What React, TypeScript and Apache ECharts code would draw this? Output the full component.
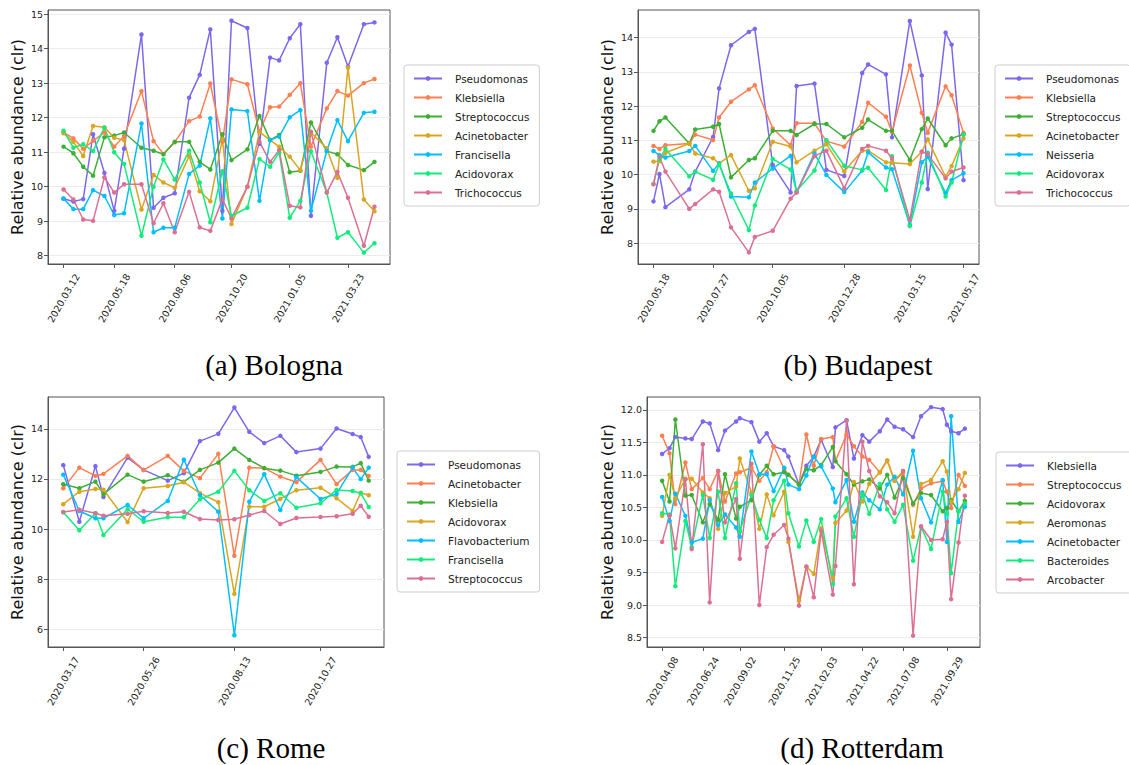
import React, { useEffect, useRef } from 'react';
import * as echarts from 'echarts';

// ---------------- Bologna ----------------
const bolognaDates = ['2020-03-12','2020-03-25','2020-04-07','2020-04-20','2020-05-05','2020-05-18','2020-05-31','2020-06-23','2020-07-09','2020-07-22','2020-08-06','2020-08-25','2020-09-08','2020-09-22','2020-10-08','2020-10-20','2020-11-10','2020-11-26','2020-12-10','2020-12-22','2021-01-05','2021-01-19','2021-02-02','2021-02-23','2021-03-09','2021-03-23','2021-04-13','2021-04-27'];
const bolognaTicks = ['2020-03-12','2020-05-18','2020-08-06','2020-10-20','2021-01-05','2021-03-23'];
const bolognaYTicks = [8, 9, 10, 11, 12, 13, 14, 15];
const bolognaTaxa = ['Pseudomonas','Klebsiella','Streptococcus','Acinetobacter','Francisella','Acidovorax','Trichococcus'];
const bolognaPseudomonas = [9.65,9.57,9.64,11.52,10.4,9.30,11.1,14.41,9.39,9.68,9.81,12.58,13.24,14.56,9.3,14.81,14.60,11.24,13.74,13.66,14.30,14.71,9.16,13.59,14.33,13.48,14.71,14.76];
const bolognaKlebsiella = [11.57,11.40,11.10,11.33,11.57,11.16,11.47,12.77,11.32,10.95,11.29,11.90,12.03,12.99,11.3,13.11,12.97,11.59,12.30,12.32,12.66,13.00,11.16,12.27,12.77,12.64,13.00,13.12];
const bolognaStreptococcus = [11.16,10.97,10.58,10.32,11.43,11.48,11.57,11.13,11.04,10.94,11.30,11.30,10.72,10.50,11.52,10.77,11.08,12.05,11.35,11.50,10.42,10.46,11.86,11.03,10.94,10.63,10.48,10.72];
const bolognaAcinetobacter = [11.55,11.30,10.89,11.76,11.72,11.42,11.35,9.34,10.34,10.12,9.97,10.89,9.87,9.58,11.38,8.92,10.00,11.59,11.35,11.16,10.87,10.48,11.57,11.11,10.26,13.45,9.63,9.29];
const bolognaFrancisella = [9.66,9.35,9.35,9.90,9.73,9.18,9.23,11.83,8.68,8.81,8.81,10.37,10.61,11.98,9.08,12.24,12.19,9.59,11.35,11.45,12.01,12.22,9.30,11.04,11.93,11.32,12.14,12.17];
const bolognaAcidovorax = [11.62,11.13,11.23,11.03,11.71,11.00,10.66,8.58,10.00,10.79,10.21,11.04,10.12,8.97,10.45,9.15,9.39,10.80,10.58,10.99,9.10,9.59,11.03,9.83,8.52,8.68,8.09,8.36];
const bolognaTrichococcus = [9.92,9.63,9.05,9.01,10.27,9.83,10.07,10.07,8.94,9.52,8.68,9.85,8.82,8.72,9.64,9.08,10.00,11.30,10.72,11.06,9.45,9.40,11.59,9.83,10.43,9.68,8.29,9.42];

// ---------------- Budapest ----------------
const budapestDates = ['2020-05-18','2020-05-25','2020-06-01','2020-06-29','2020-07-06','2020-07-27','2020-08-03','2020-08-17','2020-09-07','2020-09-14','2020-10-05','2020-10-26','2020-11-02','2020-11-23','2020-12-07','2020-12-28','2021-01-18','2021-01-25','2021-02-15','2021-02-22','2021-03-15','2021-03-29','2021-04-05','2021-04-26','2021-05-03','2021-05-17'];
const budapestTicks = ['2020-05-18','2020-07-27','2020-10-05','2020-12-28','2021-03-15','2021-05-17'];
const budapestYTicks = [8, 9, 10, 11, 12, 13, 14];
const budapestTaxa = ['Pseudomonas','Klebsiella','Streptococcus','Acinetobacter','Neisseria','Acidovorax','Trichococcus'];
const budapestPseudomonas = [9.22,10.02,9.05,9.57,10.09,11.10,12.52,13.78,14.17,14.26,10.28,9.48,12.59,12.66,10.14,9.96,12.97,13.22,12.93,11.09,14.49,12.90,9.58,14.15,13.80,9.84];
const budapestKlebsiella = [10.84,10.75,10.86,10.91,11.17,11.01,11.67,12.13,12.49,12.61,11.35,10.86,11.50,11.50,10.98,10.82,11.54,12.10,11.69,11.25,13.19,11.81,11.22,12.58,12.32,11.22];
const budapestStreptococcus = [11.28,11.56,11.67,10.91,11.32,11.40,11.48,9.92,10.43,10.48,11.28,11.28,11.16,11.48,11.48,11.09,11.37,11.61,11.28,11.28,10.43,11.33,11.64,10.86,11.06,11.18];
const budapestAcinetobacter = [10.38,10.40,10.64,10.91,10.62,10.48,10.33,10.57,9.53,9.60,10.96,10.82,10.36,10.70,10.89,10.09,10.70,10.70,10.36,10.35,10.31,10.67,11.03,9.94,10.25,11.06];
const budapestNeisseria = [10.69,10.57,10.50,10.69,10.84,10.11,10.33,9.36,9.34,9.77,10.18,10.55,9.49,10.62,9.99,9.49,10.12,10.65,10.21,10.16,8.53,10.36,10.52,9.46,9.84,10.04];
const budapestAcidovorax = [9.73,10.45,10.75,9.95,10.09,9.85,10.30,9.45,8.38,9.10,10.46,10.15,9.52,10.12,11.01,10.26,10.14,10.20,9.55,10.54,8.50,9.77,10.64,9.36,9.77,11.17];
const budapestTrichococcus = [9.72,10.52,10.09,9.00,9.14,9.57,9.50,8.46,7.73,8.18,8.36,9.30,9.48,10.54,10.70,9.60,10.75,10.84,10.70,10.48,8.68,10.67,10.60,9.89,10.09,10.21];

// ---------------- Rome ----------------
const romeDates = ['2020-03-17','2020-03-31','2020-04-14','2020-04-21','2020-05-12','2020-05-26','2020-06-16','2020-06-30','2020-07-14','2020-07-30','2020-08-13','2020-08-26','2020-09-08','2020-09-22','2020-10-06','2020-10-27','2020-11-10','2020-11-24','2020-12-01','2020-12-08'];
const romeTicks = ['2020-03-17','2020-05-26','2020-08-13','2020-10-27'];
const romeYTicks = [6, 8, 10, 12, 14];
const romeTaxa = ['Pseudomonas','Acinetobacter','Klebsiella','Acidovorax','Flavobacterium','Francisella','Streptococcus'];
const romePseudomonas = [12.55,10.29,12.51,11.28,12.85,12.36,11.93,12.23,13.51,13.80,14.85,13.88,13.43,13.72,13.07,13.21,14.01,13.79,13.67,12.88];
const romeAcinetobacter = [11.63,12.45,12.12,12.20,12.92,12.35,12.92,12.32,12.03,13.00,8.93,12.45,12.43,12.09,11.87,12.76,11.79,12.36,12.36,12.12];
const romeKlebsiella = [11.79,11.63,11.89,11.39,12.17,11.89,12.15,11.88,12.36,12.65,13.21,12.76,12.43,12.33,12.13,12.28,12.49,12.48,12.63,11.93];
const romeAcidovorax = [10.99,11.49,11.60,11.57,10.28,11.63,11.72,11.87,11.43,11.07,7.41,10.89,10.89,11.20,11.55,11.65,11.23,10.72,11.45,11.35];
const romeFlavobacterium = [12.17,10.72,10.43,10.43,10.96,10.43,11.12,12.77,11.36,10.69,5.76,11.09,12.19,10.76,12.07,11.20,11.40,12.45,11.99,12.45];
const romeFrancisella = [10.67,9.95,10.63,9.76,10.79,10.29,10.47,10.47,11.19,11.49,12.32,11.55,11.12,11.43,10.85,11.03,11.56,11.52,11.43,10.88];
const romeStreptococcus = [10.68,10.77,10.63,10.53,10.61,10.71,10.64,10.69,10.40,10.36,10.39,10.56,10.72,10.20,10.44,10.48,10.51,10.61,10.93,10.49];

// ---------------- Rotterdam ----------------
const rotterdamDates = ['2020-04-08','2020-04-22','2020-05-03','2020-05-22','2020-06-03','2020-06-24','2020-07-07','2020-07-23','2020-08-05','2020-08-26','2020-09-02','2020-09-24','2020-10-09','2020-10-23','2020-11-05','2020-11-25','2020-12-03','2020-12-23','2021-01-06','2021-01-20','2021-02-03','2021-02-25','2021-03-02','2021-03-23','2021-04-06','2021-04-22','2021-05-05','2021-05-25','2021-06-08','2021-06-22','2021-07-08','2021-07-27','2021-08-11','2021-08-30','2021-09-21','2021-09-29','2021-10-07','2021-10-21','2021-11-02'];
const rotterdamTicks = ['2020-04-08','2020-06-24','2020-09-02','2020-11-25','2021-02-03','2021-04-22','2021-07-08','2021-09-29'];
const rotterdamYTicks = [8.5, 9.0, 9.5, 10.0, 10.5, 11.0, 11.5, 12.0];
const rotterdamTaxa = ['Klebsiella','Streptococcus','Acidovorax','Aeromonas','Acinetobacter','Bacteroides','Arcobacter'];
const rotterdamKlebsiella = [11.32,11.41,11.58,11.56,11.55,11.82,11.79,11.38,11.68,11.82,11.87,11.81,11.51,11.64,11.44,11.38,11.28,10.85,11.14,11.28,11.54,11.12,11.73,11.84,11.25,11.61,11.51,11.67,11.85,11.74,11.70,11.58,11.90,12.04,12.01,11.77,11.67,11.64,11.71];
const rotterdamStreptococcus = [11.60,11.33,10.55,11.19,10.78,10.95,10.78,11.06,10.59,11.02,11.04,11.11,10.91,11.04,11.44,11.09,11.00,10.85,11.62,11.14,11.55,11.58,11.21,11.62,11.44,11.28,11.23,11.04,11.22,10.91,11.03,10.54,10.79,10.87,10.90,10.74,10.49,11.00,10.83];
const rotterdamAcidovorax = [10.91,10.59,11.85,10.68,10.69,10.27,10.55,10.31,11.01,10.33,10.51,10.61,11.00,11.14,11.01,11.04,11.00,10.85,11.09,11.07,11.15,11.43,11.21,11.01,10.85,10.90,10.93,10.79,11.00,10.65,10.95,10.56,10.72,10.69,10.44,10.49,10.61,10.44,10.60];
const rotterdamAeromonas = [10.37,11.00,10.64,10.94,10.94,10.73,10.64,10.17,10.72,10.82,11.25,10.73,10.17,10.70,10.38,10.74,9.97,9.07,9.59,9.48,10.18,9.42,10.26,10.45,10.89,10.59,10.86,11.04,11.22,10.91,11.06,10.05,10.86,10.92,11.21,11.05,10.59,10.78,11.03];
const rotterdamAcinetobacter = [10.66,10.29,10.71,10.37,9.96,10.02,10.61,10.23,10.39,10.19,10.05,11.36,11.01,11.01,10.75,11.11,10.85,10.78,10.99,11.28,11.13,10.79,10.58,10.92,10.28,10.73,10.61,10.47,10.85,10.97,10.70,11.37,10.64,10.27,10.92,9.97,11.90,10.28,10.51];
const rotterdamBacteroides = [10.41,10.39,9.29,10.29,9.89,10.69,10.03,10.74,10.03,10.87,10.13,10.69,10.31,10.03,10.61,10.91,10.41,9.90,10.30,9.97,10.32,9.32,10.36,10.64,10.05,10.70,10.40,10.86,10.47,10.28,10.54,9.68,10.20,9.86,10.74,10.41,9.49,10.44,10.56];
const rotterdamArcobacter = [9.97,10.38,9.87,10.93,9.86,11.47,9.04,11.06,10.27,10.63,9.71,11.17,9.00,9.89,10.08,10.23,10.02,8.99,9.59,9.12,10.14,9.16,9.60,11.83,9.32,11.51,11.06,10.67,10.58,10.41,11.06,8.53,10.21,10.00,10.01,10.28,9.09,9.96,10.68];

const palette = ['#7b68ee', '#ff7f50', '#3daf35', '#daa520', '#00bfff', '#14eb7c', '#db7093'];
const yLabel = 'Relative abundance (clr)';

const panels = [
  { key: 'a', title: '(a) Bologna', dates: bolognaDates, ticks: bolognaTicks, yTicks: bolognaYTicks, yRange: [7.76, 15.12], dec: 0, taxa: bolognaTaxa,
    values: [bolognaPseudomonas, bolognaKlebsiella, bolognaStreptococcus, bolognaAcinetobacter, bolognaFrancisella, bolognaAcidovorax, bolognaTrichococcus],
    grid: { left: 48, top: 10, width: 342, height: 254 }, nameGap: 23, legendPos: { left: 404, top: 65 }, titlePos: [274, 365] },
  { key: 'b', title: '(b) Budapest', dates: budapestDates, ticks: budapestTicks, yTicks: budapestYTicks, yRange: [7.39, 14.81], dec: 0, taxa: budapestTaxa,
    values: [budapestPseudomonas, budapestKlebsiella, budapestStreptococcus, budapestAcinetobacter, budapestNeisseria, budapestAcidovorax, budapestTrichococcus],
    grid: { left: 638, top: 10, width: 341, height: 254 }, nameGap: 23, legendPos: { left: 995, top: 65 }, titlePos: [858, 365] },
  { key: 'c', title: '(c) Rome', dates: romeDates, ticks: romeTicks, yTicks: romeYTicks, yRange: [5.29, 15.27], dec: 0, taxa: romeTaxa,
    values: [romePseudomonas, romeAcinetobacter, romeKlebsiella, romeAcidovorax, romeFlavobacterium, romeFrancisella, romeStreptococcus],
    grid: { left: 48, top: 397, width: 336, height: 250 }, nameGap: 23, legendPos: { left: 397, top: 451 }, titlePos: [271, 748] },
  { key: 'd', title: '(d) Rotterdam', dates: rotterdamDates, ticks: rotterdamTicks, yTicks: rotterdamYTicks, yRange: [8.355, 12.196], dec: 1, taxa: rotterdamTaxa,
    values: [rotterdamKlebsiella, rotterdamStreptococcus, rotterdamAcidovorax, rotterdamAeromonas, rotterdamAcinetobacter, rotterdamBacteroides, rotterdamArcobacter],
    grid: { left: 647, top: 397, width: 333, height: 250 }, nameGap: 32, legendPos: { left: 996, top: 452 }, titlePos: [862, 748] },
];

const toTs = (d: string) => {
  const [y, m, dd] = d.split('-').map(Number);
  return Date.UTC(y, m - 1, dd);
};
const fmtDate = (v: number) => {
  const d = new Date(v);
  const p = (n: number) => String(n).padStart(2, '0');
  return `${d.getUTCFullYear()}.${p(d.getUTCMonth() + 1)}.${p(d.getUTCDate())}`;
};

const FONT = 'DejaVu Sans';
const SPINE = '#555555';

function buildOption() {
  const grid: any[] = [];
  const xAxis: any[] = [];
  const yAxis: any[] = [];
  const series: any[] = [];
  const legend: any[] = [];
  const graphic: any[] = [];

  panels.forEach((p, i) => {
    const ts = p.dates.map(toTs);
    const t0 = ts[0];
    const t1 = ts[ts.length - 1];
    const pad = (t1 - t0) * 0.05;
    const tickTs = p.ticks.map(toTs);

    grid.push({ ...p.grid, show: true, borderColor: SPINE, borderWidth: 1, backgroundColor: 'transparent', containLabel: false });

    xAxis.push({
      type: 'value', gridIndex: i, min: t0 - pad, max: t1 + pad, scale: true,
      axisLine: { show: true, lineStyle: { color: SPINE, width: 1 } },
      axisTick: { show: true, customValues: tickTs, length: 4, lineStyle: { color: SPINE } },
      axisLabel: {
        customValues: tickTs, rotate: 60, fontSize: 9.5, color: '#222', fontFamily: FONT,
        margin: 34, align: 'center', verticalAlign: 'middle',
        formatter: (v: number) => fmtDate(v),
      },
      splitLine: { show: false },
      minorTick: { show: false },
    });

    yAxis.push({
      type: 'value', gridIndex: i, min: p.yRange[0], max: p.yRange[1],
      axisLine: { show: true, lineStyle: { color: SPINE, width: 1 } },
      axisTick: { show: true, customValues: p.yTicks, length: 4, lineStyle: { color: SPINE } },
      axisLabel: { customValues: p.yTicks, fontSize: 9.5, color: '#222', fontFamily: FONT, margin: 5, formatter: (v: number) => v.toFixed(p.dec) },
      splitLine: { show: true, lineStyle: { color: '#ebebeb', width: 1 } },
      name: yLabel, nameLocation: 'middle', nameRotate: 90, nameGap: p.nameGap,
      nameTextStyle: { fontSize: 16, color: '#111', fontFamily: FONT },
    });

    p.taxa.forEach((taxon, k) => {
      const vals = p.values[k];
      series.push({
        type: 'line', name: `${p.key}:${taxon}`, xAxisIndex: i, yAxisIndex: i,
        data: ts.map((t, j) => [t, vals[j]]),
        symbol: 'circle', symbolSize: 4.5, showSymbol: true,
        lineStyle: { width: 1.5, color: palette[k] },
        itemStyle: { color: palette[k] },
        emphasis: { disabled: true },
        silent: true,
      });
    });

    legend.push({
      orient: 'vertical', left: p.legendPos.left, top: p.legendPos.top,
      data: p.taxa.map((t) => `${p.key}:${t}`),
      formatter: (n: string) => n.slice(2),
      selectedMode: false,
      itemWidth: 28, itemHeight: 6, itemGap: 8,
      textStyle: { fontSize: 10.5, lineHeight: 11, color: '#222', fontFamily: FONT, padding: [0, 0, 0, 8] },
      borderColor: '#cccccc', borderWidth: 1, borderRadius: 3,
      padding: [8, 10, 8, 9],
      backgroundColor: '#ffffff',
    });

    graphic.push({
      type: 'text', x: p.titlePos[0], y: p.titlePos[1],
      style: { text: p.title, fontSize: 29, fontFamily: 'Liberation Serif', fill: '#000', align: 'center', verticalAlign: 'middle' },
    });
  });

  return { animation: false, backgroundColor: '#ffffff', grid, xAxis, yAxis, series, legend, graphic, tooltip: { show: false } };
}

export default function App() {
  const ref = useRef<HTMLDivElement>(null);
  useEffect(() => {
    if (!ref.current) return;
    const chart = echarts.init(ref.current, null, { renderer: 'svg' });
    chart.setOption(buildOption() as any);
    return () => chart.dispose();
  }, []);
  return <div ref={ref} style={{ position: 'absolute', left: 0, top: 0, width: 1129, height: 765, background: '#fff' }} />;
}
